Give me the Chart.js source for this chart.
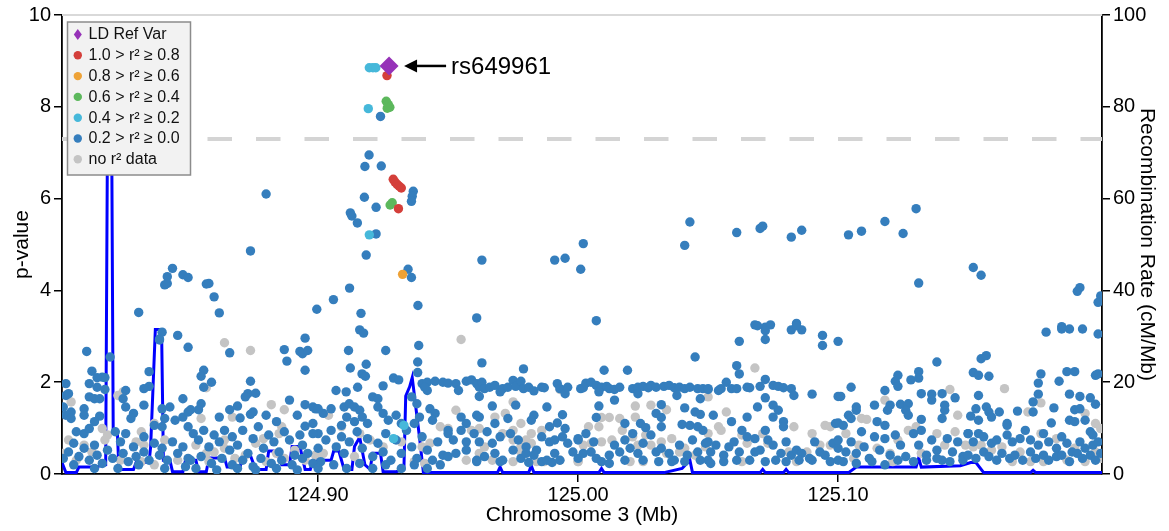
<!DOCTYPE html>
<html>
<head>
<meta charset="utf-8">
<title>rs649961 regional plot</title>
<script src="https://cdn.jsdelivr.net/npm/chart.js@4.4.0/dist/chart.umd.min.js"></script>
<style>
  html, body { margin: 0; padding: 0; background: #fff; }
  #wrap { width: 1169px; height: 531px; }
</style>
</head>
<body>
<div id="wrap"><canvas id="locus" width="1169" height="531"></canvas></div>
<script>
// position (Mb), -log10 p
const leadVariant = [[124.9273, 8.89]];
const leadName = 'rs649961';
const sigLine = 7.3;
const xTicks = [124.90, 125.00, 125.10];

const ldRed = [[124.9265, 8.68], [124.9289, 6.42], [124.9296, 6.36], [124.9304, 6.31], [124.9312, 6.27], [124.9320, 6.23], [124.9309, 5.78]];
const ldOrange = [[124.9325, 4.35]];
const ldGreen = [[124.9262, 8.12], [124.9270, 8.05], [124.9276, 7.99], [124.9266, 7.97], [124.9285, 5.91], [124.9277, 5.86]];
const ldLightBlue = [[124.9197, 8.85], [124.9211, 8.85], [124.9222, 8.85], [124.9193, 7.96], [124.9197, 5.21], [124.933, 1.06], [124.929, 0.77]];

const ldBlue = [
  // peak area
  [124.924, 7.79], [124.9196, 6.95], [124.918, 6.70], [124.9243, 6.71], [124.9366, 6.16], [124.9362, 6.05], [124.9359, 5.94],
  [124.9178, 6.03], [124.9223, 5.81], [124.9124, 5.69], [124.913, 5.62], [124.9151, 5.47], [124.9223, 5.23], [124.9185, 4.77],
  [124.9346, 4.46], [124.9359, 4.28], [124.9121, 4.05], [124.9059, 3.80], [124.8995, 3.59], [124.9384, 3.67], [124.9165, 3.50],
  [124.916, 3.14], [124.9175, 3.07], [124.9387, 2.80], [124.9117, 2.69], [124.926, 2.69], [124.9383, 2.44], [124.9185, 2.39],
  [124.9124, 2.31], [124.9169, 2.18], [124.9182, 2.13], [124.9383, 2.21], [124.929, 2.09], [124.931, 2.05], [124.925, 1.92],
  [124.9069, 1.82], [124.9108, 1.79], [124.9152, 1.89],
  [124.899, 1.42], [124.902, 1.32], [124.905, 1.42], [124.910, 1.46], [124.912, 1.53], [124.914, 1.46], [124.916, 1.39],
  [124.911, 1.24], [124.909, 1.06], [124.914, 1.14], [124.917, 1.24], [124.919, 1.10], [124.921, 1.68], [124.923, 1.64],
  [124.923, 1.46], [124.925, 1.32], [124.927, 1.17], [124.930, 1.28], [124.932, 1.10], [124.937, 1.10], [124.939, 1.24],
  [124.943, 1.42], [124.945, 1.32], [124.944, 1.17], [124.936, 1.68], [124.938, 1.53], [124.940, 1.97], [124.942, 2.00],
  [124.945, 2.02], [124.948, 2.00], [124.942, 1.82], [124.941, 1.89],
  [124.900, 0.88], [124.903, 0.74], [124.905, 0.95], [124.907, 0.59], [124.909, 0.81], [124.910, 0.45], [124.912, 0.70],
  [124.915, 0.92], [124.917, 0.56], [124.919, 0.77], [124.921, 0.38], [124.923, 0.67], [124.925, 0.48], [124.926, 0.88],
  [124.928, 0.30], [124.930, 0.74], [124.932, 0.45], [124.934, 0.95], [124.936, 0.59], [124.938, 0.34], [124.940, 0.81],
  [124.942, 0.52], [124.944, 0.30], [124.946, 0.70], [124.948, 0.41], [124.950, 0.88], [124.901, 0.27], [124.906, 0.20],
  [124.911, 0.12], [124.916, 0.23], [124.921, 0.12], [124.926, 0.20], [124.932, 0.12], [124.937, 0.20], [124.942, 0.12],
  [124.947, 0.20],
  // left edge
  [124.844, 4.48], [124.842, 4.30], [124.841, 4.12], [124.842, 4.15], [124.848, 4.34], [124.850, 4.28], [124.831, 3.52],
  [124.846, 3.02], [124.850, 2.76], [124.840, 3.09], [124.839, 2.94], [124.839, 2.92], [124.811, 2.67], [124.820, 2.55],
  [124.813, 2.24], [124.817, 2.11], [124.818, 2.10], [124.815, 2.10], [124.835, 2.23], [124.835, 1.91], [124.833, 1.86],
  [124.803, 1.97], [124.812, 1.97], [124.815, 1.89], [124.818, 1.84], [124.803, 1.71], [124.804, 1.75], [124.812, 1.68],
  [124.814, 1.64], [124.816, 1.64], [124.825, 1.64], [124.826, 1.82], [124.848, 1.64], [124.826, 1.46], [124.833, 1.50],
  [124.840, 1.42], [124.843, 1.46], [124.829, 1.32], [124.828, 1.21], [124.810, 1.42], [124.810, 1.28], [124.802, 1.46],
  [124.803, 1.28], [124.805, 1.35], [124.805, 1.21], [124.816, 1.26], [124.814, 1.14], [124.841, 1.21], [124.845, 1.17],
  [124.848, 1.24], [124.850, 1.35], [124.807, 0.92], [124.810, 0.88], [124.812, 0.99], [124.822, 0.92], [124.826, 0.88],
  [124.833, 0.81], [124.837, 1.06], [124.840, 1.03],
  [124.802, 0.34], [124.804, 0.48], [124.806, 0.67], [124.808, 0.38], [124.810, 0.56], [124.812, 0.30], [124.814, 0.63],
  [124.815, 0.41], [124.817, 0.23], [124.819, 0.52], [124.821, 0.34], [124.824, 0.70], [124.825, 0.45], [124.827, 0.27],
  [124.829, 0.59], [124.830, 0.38], [124.833, 0.48], [124.835, 0.30], [124.837, 0.67], [124.839, 0.41], [124.840, 0.56],
  [124.842, 0.30], [124.844, 0.70], [124.846, 0.45], [124.848, 0.59], [124.850, 0.34], [124.806, 0.20], [124.814, 0.12],
  [124.823, 0.12], [124.831, 0.20], [124.841, 0.12], [124.849, 0.16],
  // 124.85 - 124.90
  [124.880, 6.10], [124.874, 4.86], [124.857, 4.14], [124.858, 4.15], [124.860, 3.86], [124.862, 3.51], [124.866, 2.64],
  [124.887, 2.71], [124.888, 2.46], [124.895, 2.96], [124.893, 2.67], [124.894, 2.62], [124.896, 2.69], [124.895, 2.26],
  [124.856, 2.26], [124.855, 2.13], [124.859, 2.00], [124.856, 1.89], [124.855, 1.53], [124.854, 1.40], [124.874, 2.02],
  [124.873, 1.75], [124.872, 1.68], [124.876, 1.76], [124.889, 1.61], [124.869, 1.48], [124.866, 1.40], [124.862, 1.24],
  [124.870, 1.22], [124.874, 1.30], [124.875, 1.35], [124.880, 1.28], [124.892, 1.28], [124.895, 1.51], [124.898, 1.46],
  [124.900, 1.42], [124.851, 1.40], [124.884, 1.14], [124.895, 1.04], [124.898, 1.10],
  [124.850, 1.03], [124.852, 0.88], [124.854, 0.74], [124.856, 0.95], [124.858, 0.59], [124.860, 0.85], [124.862, 0.70],
  [124.864, 0.95], [124.866, 0.52], [124.867, 0.81], [124.869, 0.63], [124.871, 0.95], [124.873, 0.45], [124.875, 0.77],
  [124.877, 1.03], [124.879, 0.56], [124.881, 0.85], [124.883, 0.70], [124.885, 0.48], [124.887, 0.92], [124.889, 0.74],
  [124.891, 0.41], [124.893, 0.85], [124.894, 0.63], [124.896, 0.45], [124.898, 0.88], [124.900, 0.56], [124.851, 0.30],
  [124.855, 0.38], [124.859, 0.23], [124.863, 0.34], [124.867, 0.20], [124.871, 0.30], [124.875, 0.16], [124.878, 0.34],
  [124.882, 0.23], [124.886, 0.30], [124.890, 0.20], [124.894, 0.34], [124.898, 0.23], [124.853, 0.12], [124.861, 0.09],
  [124.869, 0.12], [124.876, 0.09], [124.884, 0.12], [124.892, 0.09], [124.900, 0.12],
  // 124.95 - 125.00
  [124.963, 4.66], [124.991, 4.66], [124.995, 4.70], [124.961, 3.40], [124.963, 2.42], [124.979, 2.29],
  [124.950, 1.98], [124.953, 1.97], [124.954, 1.82], [124.957, 2.02], [124.959, 2.05], [124.961, 1.97], [124.962, 1.89],
  [124.963, 2.00], [124.964, 1.86], [124.966, 1.89], [124.968, 1.93], [124.970, 1.79], [124.971, 1.86], [124.973, 1.89],
  [124.975, 2.04], [124.976, 1.91], [124.978, 2.02], [124.979, 1.86], [124.981, 1.89], [124.983, 1.81], [124.986, 1.89],
  [124.987, 1.88], [124.992, 1.97], [124.993, 1.86], [124.995, 1.75], [124.996, 1.89], [125.001, 1.86], [124.962, 1.69],
  [124.967, 1.48], [124.976, 1.50], [124.988, 1.46], [124.955, 1.24], [124.961, 1.28], [124.962, 1.24], [124.983, 1.28],
  [124.982, 1.17], [124.994, 1.29], [124.973, 1.21], [124.957, 1.10], [124.968, 1.10], [124.989, 1.03], [124.992, 1.11],
  [124.995, 0.99],
  [124.950, 0.95], [124.952, 0.74], [124.955, 0.95], [124.957, 0.70], [124.960, 0.88], [124.962, 0.70], [124.965, 0.92],
  [124.967, 0.67], [124.970, 0.81], [124.974, 0.88], [124.977, 0.74], [124.980, 0.59], [124.984, 0.52], [124.986, 0.81],
  [124.989, 0.70], [124.991, 0.74], [124.994, 0.81], [124.996, 0.67], [125.000, 0.74], [124.950, 0.38], [124.953, 0.45],
  [124.957, 0.52], [124.961, 0.30], [124.964, 0.38], [124.968, 0.45], [124.971, 0.30], [124.975, 0.52], [124.978, 0.34],
  [124.980, 0.45], [124.983, 0.41], [124.986, 0.27], [124.988, 0.30], [124.991, 0.45], [124.993, 0.30], [124.998, 0.48],
  [125.000, 0.34], [124.961, 0.27], [124.970, 0.27], [124.981, 0.25], [124.990, 0.25],
  // 125.00 - 125.05
  [125.002, 5.02], [125.001, 4.46], [125.043, 5.49], [125.041, 4.98], [125.007, 3.34], [125.010, 2.26], [125.019, 2.26],
  [125.045, 2.55],
  [125.002, 1.88], [125.003, 1.98], [125.005, 2.00], [125.007, 1.93], [125.009, 1.89], [125.011, 1.91], [125.012, 1.86],
  [125.014, 1.84], [125.016, 1.89], [125.021, 1.86], [125.023, 1.89], [125.025, 1.91], [125.027, 1.88], [125.028, 1.93],
  [125.030, 1.89], [125.033, 1.91], [125.035, 1.93], [125.037, 1.88], [125.039, 1.89], [125.041, 1.86], [125.043, 1.89],
  [125.046, 1.86], [125.048, 1.86], [125.050, 1.84], [125.008, 1.79], [125.023, 1.75], [125.038, 1.71],
  [125.047, 1.64], [125.014, 1.61], [125.008, 1.48], [125.032, 1.51], [125.041, 1.44], [125.030, 1.32], [125.032, 1.23],
  [125.045, 1.35], [125.047, 1.30], [125.007, 1.23], [125.018, 1.10], [125.024, 1.10], [125.026, 1.01], [125.032, 1.03],
  [125.040, 1.08], [125.043, 1.06], [125.046, 1.03], [125.048, 0.95],
  [125.000, 0.77], [125.003, 0.88], [125.002, 0.45], [125.005, 0.48], [125.007, 0.34], [125.009, 0.27], [125.012, 0.41],
  [125.014, 0.63], [125.016, 0.48], [125.018, 0.74], [125.020, 0.56], [125.021, 0.88], [125.023, 0.45], [125.025, 0.67],
  [125.028, 0.85], [125.030, 0.48], [125.032, 0.56], [125.035, 0.45], [125.037, 0.30], [125.039, 0.63], [125.042, 0.41],
  [125.044, 0.74], [125.046, 0.48], [125.049, 0.67], [125.050, 0.30], [125.012, 0.23], [125.018, 0.30], [125.025, 0.30],
  [125.031, 0.27], [125.036, 0.27], [125.041, 0.27], [125.047, 0.30], [125.006, 0.70],
  // 125.05 - 125.10
  [125.061, 5.26], [125.070, 5.35], [125.071, 5.40], [125.082, 5.16], [125.086, 5.31], [125.068, 3.25], [125.069, 3.23],
  [125.072, 3.20], [125.074, 3.25], [125.072, 3.12], [125.082, 3.14], [125.084, 3.28], [125.086, 3.14], [125.084, 3.23],
  [125.062, 2.89], [125.072, 2.93], [125.094, 3.02], [125.094, 2.80], [125.100, 2.89], [125.061, 2.36], [125.062, 2.18],
  [125.072, 2.06],
  [125.050, 1.86], [125.054, 1.82], [125.055, 1.86], [125.057, 2.00], [125.059, 1.86], [125.061, 1.86], [125.065, 1.89],
  [125.066, 1.88], [125.070, 1.91], [125.075, 1.93], [125.077, 1.91], [125.079, 1.88], [125.082, 1.86], [125.083, 1.71],
  [125.090, 1.74], [125.100, 1.69],
  [125.072, 1.66], [125.075, 1.50], [125.077, 1.39], [125.069, 1.46], [125.052, 1.28], [125.065, 1.24], [125.075, 1.24],
  [125.079, 1.14], [125.079, 1.03], [125.059, 1.14], [125.100, 1.11],
  [125.050, 0.70], [125.051, 0.48], [125.053, 0.63], [125.056, 0.41], [125.058, 0.59], [125.060, 0.70], [125.062, 0.48],
  [125.063, 0.95], [125.065, 0.81], [125.068, 0.77], [125.070, 0.52], [125.072, 0.95], [125.073, 0.74], [125.075, 0.63],
  [125.078, 0.45], [125.080, 0.70], [125.082, 0.41], [125.084, 0.52], [125.086, 0.45], [125.089, 0.34], [125.091, 0.70],
  [125.093, 0.48], [125.095, 0.41], [125.098, 0.67], [125.100, 0.56], [125.051, 0.23], [125.056, 0.27], [125.061, 0.30],
  [125.066, 0.30], [125.068, 0.48], [125.072, 0.27], [125.076, 0.30], [125.080, 0.27], [125.085, 0.30], [125.090, 0.30],
  [125.097, 0.27], [125.100, 0.30],
  // 125.10 - 125.15
  [125.104, 5.21], [125.109, 5.29], [125.118, 5.50], [125.125, 5.24], [125.130, 5.78], [125.131, 4.16], [125.138, 2.44],
  [125.123, 2.15], [125.122, 2.02], [125.123, 1.91], [125.128, 2.05], [125.131, 2.23], [125.131, 2.09], [125.105, 1.89],
  [125.101, 1.69], [125.118, 1.82], [125.132, 1.75], [125.136, 1.74], [125.136, 1.61], [125.140, 1.75], [125.145, 1.66],
  [125.114, 1.50], [125.120, 1.50], [125.119, 1.39], [125.124, 1.52], [125.127, 1.53], [125.126, 1.39], [125.127, 1.28],
  [125.107, 1.46], [125.107, 1.39], [125.141, 1.50], [125.141, 1.39], [125.104, 1.28], [125.105, 1.21], [125.115, 1.14],
  [125.118, 1.06], [125.132, 1.19], [125.140, 1.21], [125.099, 1.10], [125.102, 1.06],
  [125.100, 0.74], [125.103, 0.48], [125.105, 0.70], [125.107, 0.45], [125.109, 0.92], [125.110, 0.59], [125.112, 0.34],
  [125.114, 0.81], [125.116, 0.52], [125.118, 0.77], [125.120, 0.41], [125.122, 0.85], [125.124, 0.63], [125.126, 0.38],
  [125.129, 0.88], [125.131, 0.63], [125.132, 0.95], [125.134, 0.41], [125.136, 0.74], [125.138, 0.52], [125.140, 0.30],
  [125.142, 0.77], [125.144, 0.48], [125.146, 0.70], [125.148, 0.38], [125.150, 0.88], [125.102, 0.27], [125.107, 0.23],
  [125.113, 0.27], [125.118, 0.20], [125.123, 0.30], [125.129, 0.27], [125.134, 0.30], [125.138, 0.34], [125.143, 0.27],
  [125.148, 0.30],
  // 125.15 - right edge
  [125.152, 4.50], [125.155, 4.33], [125.193, 4.06], [125.192, 3.98], [125.201, 3.88], [125.200, 3.74], [125.180, 3.09],
  [125.186, 3.21], [125.186, 3.16], [125.189, 3.16], [125.194, 3.16], [125.200, 3.05], [125.155, 2.51], [125.157, 2.58],
  [125.152, 2.21], [125.154, 2.15], [125.158, 2.13], [125.178, 2.18], [125.177, 1.98], [125.185, 2.02], [125.188, 2.23],
  [125.191, 2.23], [125.199, 2.15], [125.200, 2.18], [125.154, 1.71], [125.177, 1.74], [125.175, 1.57], [125.189, 1.74],
  [125.193, 1.69], [125.197, 1.66], [125.199, 1.52], [125.153, 1.42], [125.157, 1.46], [125.158, 1.35], [125.159, 1.24],
  [125.162, 1.35], [125.169, 1.37], [125.175, 1.35], [125.183, 1.44], [125.191, 1.40], [125.193, 1.42], [125.151, 1.26],
  [125.154, 1.17], [125.165, 1.10], [125.165, 1.06], [125.182, 1.11], [125.189, 1.17], [125.191, 1.14], [125.195, 1.17],
  [125.197, 0.92], [125.198, 0.85],
  [125.150, 0.88], [125.152, 0.70], [125.154, 0.88], [125.156, 0.81], [125.159, 0.67], [125.161, 0.74], [125.165, 0.85],
  [125.167, 0.70], [125.170, 0.77], [125.172, 0.95], [125.174, 0.74], [125.177, 0.63], [125.179, 0.88], [125.181, 0.70],
  [125.184, 0.56], [125.186, 0.81], [125.188, 0.67], [125.190, 0.48], [125.193, 0.70], [125.195, 0.56], [125.198, 0.63],
  [125.200, 0.70], [125.150, 0.41], [125.153, 0.34], [125.156, 0.48], [125.158, 0.38], [125.161, 0.30], [125.163, 0.45],
  [125.166, 0.34], [125.168, 0.41], [125.171, 0.30], [125.174, 0.48], [125.176, 0.34], [125.179, 0.41], [125.181, 0.30],
  [125.184, 0.38], [125.186, 0.41], [125.189, 0.27], [125.192, 0.45], [125.194, 0.34], [125.197, 0.41], [125.199, 0.30],
  [125.201, 0.45]
];

const noLd = [
  [124.804, 0.74], [124.810, 0.63], [124.813, 0.48], [124.818, 0.74], [124.824, 0.30], [124.830, 0.70], [124.833, 0.63],
  [124.841, 0.74], [124.846, 0.30], [124.802, 0.45], [124.807, 0.30], [124.832, 0.27], [124.837, 0.20], [124.805, 1.57],
  [124.823, 1.71], [124.825, 1.79], [124.837, 1.10], [124.817, 0.99], [124.819, 0.85], [124.832, 0.92],
  [124.853, 0.63], [124.857, 0.45], [124.860, 0.48], [124.864, 0.56], [124.868, 0.34], [124.872, 0.41], [124.876, 0.67],
  [124.880, 0.27], [124.884, 0.45], [124.887, 0.34], [124.891, 0.52], [124.895, 0.30], [124.899, 0.41], [124.864, 0.74],
  [124.879, 0.77], [124.885, 0.88], [124.858, 0.27], [124.864, 2.86], [124.874, 2.69], [124.857, 1.88], [124.882, 1.51],
  [124.887, 1.40], [124.855, 1.21], [124.867, 1.24], [124.886, 1.03],
  [124.904, 1.28], [124.909, 1.03], [124.916, 0.88], [124.920, 0.74], [124.925, 0.59], [124.932, 0.70], [124.937, 0.27],
  [124.940, 0.59], [124.943, 0.67], [124.947, 1.03], [124.950, 0.99], [124.941, 0.23], [124.914, 0.38], [124.902, 0.45],
  [124.955, 2.93], [124.993, 1.84], [124.975, 1.57], [124.953, 1.39], [124.968, 1.24], [124.972, 1.32], [124.959, 0.95],
  [124.962, 0.99], [124.971, 0.88], [124.975, 0.95], [124.978, 1.10], [124.982, 0.88], [124.986, 0.95], [124.975, 0.74],
  [124.978, 0.59], [124.980, 0.74], [124.964, 0.59], [124.957, 0.30], [124.962, 0.45], [124.967, 0.30], [124.975, 0.27],
  [124.978, 0.48], [124.984, 0.27], [124.987, 0.27], [124.993, 0.30], [125.000, 0.27], [124.982, 0.67],
  [125.000, 0.27], [125.004, 1.03], [125.008, 1.03], [125.005, 0.67], [125.009, 0.70], [125.013, 0.74], [125.017, 0.95],
  [125.021, 0.81], [125.023, 0.63], [125.026, 0.85], [125.028, 0.63], [125.032, 0.70], [125.036, 0.77], [125.039, 0.48],
  [125.041, 0.56], [125.045, 0.41], [125.049, 0.59], [125.002, 0.63], [125.020, 0.27], [125.025, 0.27], [125.034, 0.45],
  [125.022, 1.48], [125.028, 1.50], [125.034, 1.40], [125.009, 1.23], [125.012, 1.23], [125.016, 1.21], [125.022, 1.24],
  [125.050, 0.88], [125.055, 0.95], [125.063, 0.85], [125.065, 0.67], [125.071, 0.88], [125.073, 0.67], [125.081, 0.48],
  [125.088, 0.48], [125.090, 0.88], [125.093, 0.63], [125.097, 0.63], [125.084, 0.27], [125.063, 0.27], [125.068, 2.31],
  [125.050, 1.68], [125.057, 1.35], [125.054, 1.03], [125.083, 1.03], [125.095, 1.06], [125.097, 1.03],
  [125.103, 0.88], [125.108, 0.63], [125.115, 0.56], [125.120, 0.45], [125.123, 0.74], [125.127, 0.95], [125.130, 1.03],
  [125.138, 0.88], [125.141, 0.63], [125.145, 0.92], [125.149, 0.63], [125.106, 0.34], [125.121, 0.27], [125.132, 0.45],
  [125.143, 1.84], [125.118, 1.61], [125.146, 1.28], [125.109, 1.21], [125.111, 1.19],
  [125.152, 0.59], [125.155, 0.63], [125.159, 0.52], [125.163, 0.59], [125.167, 0.27], [125.170, 0.48], [125.174, 0.27],
  [125.178, 0.88], [125.179, 0.27], [125.184, 0.77], [125.188, 0.30], [125.191, 0.56], [125.195, 0.27], [125.199, 0.48],
  [125.201, 0.34], [125.164, 1.86], [125.173, 1.35], [125.178, 1.55], [125.195, 1.32], [125.199, 1.10], [125.201, 0.99]
];

// recombination rate (cM/Mb) along the region
const recombination = [
  [124.8015, 2.5], [124.8030, 0.3], [124.8070, 0.3], [124.8080, 1.5], [124.8140, 1.5], [124.8183, 2.0], [124.8190, 75],
  [124.8206, 75], [124.8212, 9], [124.8228, 9], [124.8234, 1], [124.8290, 1], [124.8300, 2.5], [124.8350, 2.5],
  [124.8356, 6], [124.8374, 31.5], [124.8398, 31.5], [124.8405, 3], [124.8430, 3], [124.8440, 0.5], [124.8480, 0.5],
  [124.8490, 3], [124.8530, 3], [124.8540, 0.5], [124.8570, 0.5], [124.8580, 3.5], [124.8640, 3.5], [124.8650, 1.5],
  [124.8700, 1.5], [124.8710, 4], [124.8740, 4], [124.8760, 1], [124.8800, 1], [124.8810, 5], [124.8840, 5],
  [124.8860, 2], [124.8890, 2], [124.8900, 6], [124.8930, 6], [124.8950, 1], [124.8970, 1], [124.8980, 3],
  [124.9050, 3], [124.9060, 5], [124.9080, 5], [124.9100, 1], [124.9130, 1], [124.9140, 6], [124.9160, 8],
  [124.9180, 2], [124.9200, 1], [124.9210, 4.5], [124.9240, 4.5], [124.9250, 0.5], [124.9300, 0.5], [124.9330, 1],
  [124.9337, 17], [124.9352, 19], [124.9362, 21], [124.9390, 8], [124.9405, 0.3], [124.9690, 0.3], [124.9700, 1.5],
  [124.9710, 0.3], [124.9810, 0.3], [124.9820, 1.8], [124.9830, 0.3], [125.0080, 0.3], [125.0090, 1.2], [125.0100, 0.3],
  [125.0330, 0.3], [125.0400, 1.2], [125.0430, 3], [125.0440, 0.3], [125.0700, 0.3], [125.0710, 1], [125.0720, 0.3],
  [125.0790, 0.3], [125.0800, 1], [125.0810, 0.3], [125.1040, 0.3], [125.1070, 1.5], [125.1300, 1.5], [125.1310, 3.5],
  [125.1320, 1.5], [125.1470, 1.8], [125.1510, 2.5], [125.1530, 2.5], [125.1560, 0.3], [125.1740, 0.3], [125.1750, 0.8],
  [125.1760, 0.3], [125.2015, 0.3]
];

const legendLabels = ['LD Ref Var', '1.0 > r² ≥ 0.8', '0.8 > r² ≥ 0.6', '0.6 > r² ≥ 0.4', '0.4 > r² ≥ 0.2', '0.2 > r² ≥ 0.0', 'no r² data'];
const legendColors = ['#9632b8', '#d43f3a', '#eea236', '#5cb85c', '#46b8da', '#357ebd', '#c4c4c4'];

const FONT = 'Liberation Sans, Arial, sans-serif';
Chart.defaults.font.family = FONT;
Chart.defaults.color = '#000';

const toXY = arr => arr.map(d => ({ x: d[0], y: d[1] }));

function dots(label, data, color, ord) {
  return {
    type: 'scatter', label: label, data: toXY(data), yAxisID: 'y',
    backgroundColor: color, borderWidth: 0, pointRadius: 4.7, order: ord
  };
}

// dashed significance line + top border
const guides = {
  id: 'guides',
  beforeDatasetsDraw(chart) {
    const { ctx, chartArea: a, scales } = chart;
    const y = scales.y.getPixelForValue(sigLine);
    ctx.save();
    ctx.strokeStyle = '#d4d4d4';
    ctx.lineWidth = 4;
    ctx.setLineDash([24.5, 24]);
    ctx.beginPath(); ctx.moveTo(a.left, y); ctx.lineTo(a.right, y); ctx.stroke();
    ctx.setLineDash([]);
    ctx.lineWidth = 2;
    ctx.strokeStyle = '#d9d9d9';
    ctx.beginPath(); ctx.moveTo(a.left, a.top); ctx.lineTo(a.right, a.top); ctx.stroke();
    ctx.restore();
  }
};

// arrow + rs label next to the lead variant
const leadLabelPlugin = {
  id: 'leadLabel',
  afterDatasetsDraw(chart) {
    const { ctx, scales } = chart;
    const x = scales.x.getPixelForValue(leadVariant[0][0]);
    const y = scales.y.getPixelForValue(leadVariant[0][1]);
    ctx.save();
    ctx.strokeStyle = '#000'; ctx.fillStyle = '#000';
    ctx.lineWidth = 2.5;
    ctx.beginPath(); ctx.moveTo(x + 57, y); ctx.lineTo(x + 26, y); ctx.stroke();
    ctx.beginPath();
    ctx.moveTo(x + 15, y); ctx.lineTo(x + 28, y - 6.5); ctx.lineTo(x + 28, y + 6.5); ctx.closePath(); ctx.fill();
    ctx.font = '24px ' + FONT;
    ctx.textBaseline = 'middle';
    ctx.fillText(leadName, x + 62, y + 1);
    ctx.restore();
  }
};

// legend box in the top-left corner
const ldLegend = {
  id: 'ldLegend',
  afterDraw(chart) {
    const { ctx, chartArea: a } = chart;
    const bx = a.left + 5.5, by = a.top + 7, bw = 123, bh = 153;
    ctx.save();
    ctx.fillStyle = '#f2f2f2';
    ctx.strokeStyle = '#8c8c8c';
    ctx.lineWidth = 1.5;
    ctx.fillRect(bx, by, bw, bh);
    ctx.strokeRect(bx, by, bw, bh);
    ctx.font = '16px ' + FONT;
    ctx.textBaseline = 'middle';
    legendLabels.forEach((lab, i) => {
      const cy = by + 12.5 + i * 20.8;
      const cx = bx + 10.3;
      ctx.fillStyle = legendColors[i];
      ctx.beginPath();
      if (i === 0) {
        ctx.moveTo(cx, cy - 5.5); ctx.lineTo(cx + 4, cy); ctx.lineTo(cx, cy + 5.5); ctx.lineTo(cx - 4, cy); ctx.closePath();
      } else {
        ctx.arc(cx, cy, 4.2, 0, Math.PI * 2);
      }
      ctx.fill();
      ctx.fillStyle = '#111';
      ctx.fillText(lab, bx + 21, cy + 0.5);
    });
    ctx.restore();
  }
};

const axisGrid = { drawOnChartArea: false, drawTicks: true, tickLength: 8, color: '#000', lineWidth: 1.5 };
const axisBorder = { display: true, color: '#000', width: 1.8 };

new Chart(document.getElementById('locus'), {
  data: {
    datasets: [
      {
        type: 'line', label: 'Recombination Rate', data: toXY(recombination), yAxisID: 'y2',
        borderColor: '#0000ff', borderWidth: 3, pointRadius: 0, tension: 0, fill: false, order: 20
      },
      dots('no r2 data', noLd, legendColors[6], 10),
      dots('0.2-0.0', ldBlue, legendColors[5], 9),
      dots('0.4-0.2', ldLightBlue, legendColors[4], 8),
      dots('0.6-0.4', ldGreen, legendColors[3], 7),
      dots('0.8-0.6', ldOrange, legendColors[2], 6),
      dots('1.0-0.8', ldRed, legendColors[1], 5),
      {
        type: 'scatter', label: 'LD Ref Var', data: toXY(leadVariant), yAxisID: 'y',
        backgroundColor: legendColors[0], borderWidth: 0, pointStyle: 'rectRot', pointRadius: 9.5, order: 1
      }
    ]
  },
  options: {
    responsive: false,
    animation: false,
    events: [],
    layout: { padding: { top: 13, left: 0, right: 0, bottom: 0 } },
    plugins: { legend: { display: false }, tooltip: { enabled: false } },
    scales: {
      x: {
        type: 'linear', min: 124.8015, max: 125.2015,
        afterBuildTicks: s => { s.ticks = xTicks.map(v => ({ value: v })); },
        afterFit: s => { s.height = 57; },
        ticks: { callback: v => v.toFixed(2), font: { size: 20 }, color: '#000', maxRotation: 0, padding: 1 },
        grid: axisGrid, border: axisBorder,
        title: { display: true, text: 'Chromosome 3 (Mb)', font: { size: 21 }, color: '#000', padding: { top: 0, bottom: 3 } }
      },
      y: {
        position: 'left', min: 0, max: 10,
        afterFit: s => { s.width = 62; },
        ticks: { stepSize: 2, font: { size: 20 }, color: '#000', padding: 3 },
        grid: axisGrid, border: axisBorder,
        title: { display: true, text: 'p-value', font: { size: 21 }, color: '#000', padding: { top: 10, bottom: 0 } }
      },
      y2: {
        position: 'right', min: 0, max: 100,
        afterFit: s => { s.width = 67; },
        ticks: { stepSize: 20, font: { size: 20 }, color: '#000', padding: 3 },
        grid: axisGrid, border: axisBorder,
        title: { display: true, text: 'Recombination Rate (cM/Mb)', font: { size: 21 }, color: '#000', padding: { top: 10, bottom: 0 } }
      }
    }
  },
  plugins: [guides, leadLabelPlugin, ldLegend]
});
</script>
</body>
</html>
